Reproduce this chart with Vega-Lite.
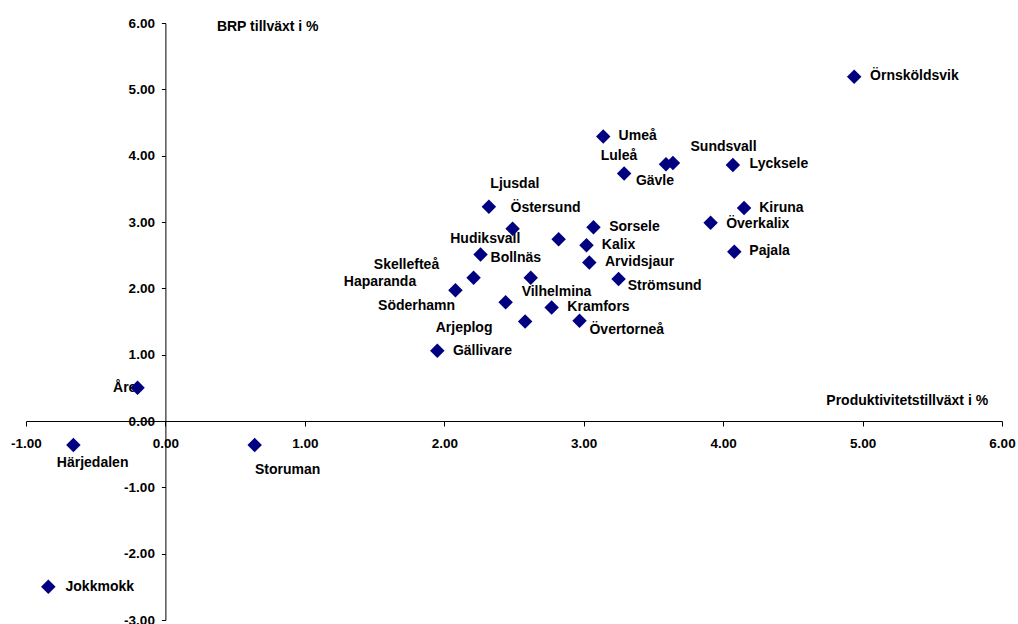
{
  "$schema": "https://vega.github.io/schema/vega-lite/v6.json",
  "width": 976,
  "height": 597,
  "autosize": {"type": "none"},
  "padding": {"left": 26, "top": 23, "right": 16, "bottom": 4},
  "background": "white",
  "config": {
    "view": {"stroke": null},
    "font": "Liberation Sans",
    "locale": {"number": {"decimal": ".", "thousands": ",", "grouping": [3], "currency": ["$", ""], "minus": "-"}}
  },
  "data": {
    "values": [
      {"kommun": "Örnsköldsvik", "prod": 4.94, "brp": 5.19, "lx": 5.372, "ly": 5.198},
      {"kommun": "Umeå", "prod": 3.14, "brp": 4.29, "lx": 3.387, "ly": 4.303},
      {"kommun": "Luleå", "prod": 3.59, "brp": 3.87, "lx": 3.253, "ly": 4.0},
      {"kommun": "Sundsvall", "prod": 3.64, "brp": 3.89, "lx": 4.003, "ly": 4.137},
      {"kommun": "Gävle", "prod": 3.29, "brp": 3.73, "lx": 3.511, "ly": 3.624},
      {"kommun": "Lycksele", "prod": 4.07, "brp": 3.86, "lx": 4.4, "ly": 3.876},
      {"kommun": "Kiruna", "prod": 4.15, "brp": 3.21, "lx": 4.418, "ly": 3.217},
      {"kommun": "Överkalix", "prod": 3.91, "brp": 2.99, "lx": 4.248, "ly": 2.976},
      {"kommun": "Pajala", "prod": 4.08, "brp": 2.55, "lx": 4.333, "ly": 2.558},
      {"kommun": "Sorsele", "prod": 3.07, "brp": 2.92, "lx": 3.364, "ly": 2.931},
      {"kommun": "Kalix", "prod": 3.02, "brp": 2.65, "lx": 3.25, "ly": 2.649},
      {"kommun": "Arvidsjaur", "prod": 3.04, "brp": 2.39, "lx": 3.401, "ly": 2.392},
      {"kommun": "Strömsund", "prod": 3.25, "brp": 2.14, "lx": 3.58, "ly": 2.03},
      {"kommun": "Ljusdal", "prod": 2.32, "brp": 3.23, "lx": 2.506, "ly": 3.575},
      {"kommun": "Hudiksvall", "prod": 2.49, "brp": 2.9, "lx": 2.294, "ly": 2.745},
      {"kommun": "Östersund", "prod": 2.82, "brp": 2.74, "lx": 2.726, "ly": 3.21},
      {"kommun": "Bollnäs", "prod": 2.26, "brp": 2.51, "lx": 2.513, "ly": 2.463},
      {"kommun": "Skellefteå", "prod": 2.21, "brp": 2.16, "lx": 1.729, "ly": 2.347},
      {"kommun": "Haparanda", "prod": 2.08, "brp": 1.97, "lx": 1.539, "ly": 2.101},
      {"kommun": "Vilhelmina", "prod": 2.62, "brp": 2.16, "lx": 2.805, "ly": 1.946},
      {"kommun": "Söderhamn", "prod": 2.44, "brp": 1.79, "lx": 1.801, "ly": 1.739},
      {"kommun": "Kramfors", "prod": 2.77, "brp": 1.71, "lx": 3.106, "ly": 1.716},
      {"kommun": "Arjeplog", "prod": 2.58, "brp": 1.5, "lx": 2.142, "ly": 1.407},
      {"kommun": "Övertorneå", "prod": 2.97, "brp": 1.51, "lx": 3.309, "ly": 1.37},
      {"kommun": "Gällivare", "prod": 1.95, "brp": 1.06, "lx": 2.274, "ly": 1.06},
      {"kommun": "Åre", "prod": -0.2, "brp": 0.5, "lx": -0.292, "ly": 0.49},
      {"kommun": "Härjedalen", "prod": -0.66, "brp": -0.36, "lx": -0.522, "ly": -0.629},
      {"kommun": "Storuman", "prod": 0.64, "brp": -0.36, "lx": 0.877, "ly": -0.742},
      {"kommun": "Jokkmokk", "prod": -0.84, "brp": -2.5, "lx": -0.471, "ly": -2.496}
    ]
  },
  "layer": [
    {
      "mark": {"type": "text", "font": "Liberation Sans", "fontWeight": "bold", "fontSize": 14, "color": "black", "align": "center", "baseline": "middle"},
      "encoding": {
        "x": {"field": "lx", "type": "quantitative", "scale": {"domain": [-1, 6], "nice": false, "zero": false},
          "axis": {"title": "Produktivitetstillväxt i %", "values": [-1, 0, 1, 2, 3, 4, 5, 6], "format": ".2f", "grid": false, "offset": -199,
            "domainColor": "black", "tickColor": "black", "tickSize": 5, "labelFont": "Liberation Sans", "labelFontWeight": "bold", "labelFontSize": 13.5,
            "labelColor": "black", "labelPadding": 10, "labelFlush": false, "labelOverlap": false, "titleFont": "Liberation Sans", "titleFontWeight": "bold",
            "titleFontSize": 14, "titleColor": "black", "titleX": 880.7, "titleY": -21, "titleAlign": "center", "titleBaseline": "middle"}},
        "y": {"field": "ly", "type": "quantitative", "scale": {"domain": [-3, 6], "nice": false, "zero": false},
          "axis": {"title": "BRP tillväxt i %", "values": [-3, -2, -1, 0, 1, 2, 3, 4, 5, 6], "format": ".2f", "grid": false, "offset": -139.4,
            "domainColor": "black", "tickColor": "black", "tickSize": 4, "labelFont": "Liberation Sans", "labelFontWeight": "bold", "labelFontSize": 13.5,
            "labelColor": "black", "labelPadding": 7, "labelFlush": false, "labelOverlap": false, "titleFont": "Liberation Sans", "titleFontWeight": "bold",
            "titleFontSize": 14, "titleColor": "black", "titleAngle": 0, "titleX": 51, "titleY": 3, "titleAlign": "left", "titleBaseline": "middle"}},
        "text": {"field": "kommun", "type": "nominal"}
      }
    },
    {
      "mark": {"type": "point", "shape": "diamond", "filled": true, "size": 210, "color": "#000080", "opacity": 1},
      "encoding": {
        "x": {"field": "prod", "type": "quantitative", "scale": {"domain": [-1, 6], "nice": false, "zero": false},
          "axis": {"title": "Produktivitetstillväxt i %", "values": [-1, 0, 1, 2, 3, 4, 5, 6], "format": ".2f", "grid": false, "offset": -199,
            "domainColor": "black", "tickColor": "black", "tickSize": 5, "labelFont": "Liberation Sans", "labelFontWeight": "bold", "labelFontSize": 13.5,
            "labelColor": "black", "labelPadding": 10, "labelFlush": false, "labelOverlap": false, "titleFont": "Liberation Sans", "titleFontWeight": "bold",
            "titleFontSize": 14, "titleColor": "black", "titleX": 880.7, "titleY": -21, "titleAlign": "center", "titleBaseline": "middle"}},
        "y": {"field": "brp", "type": "quantitative", "scale": {"domain": [-3, 6], "nice": false, "zero": false},
          "axis": {"title": "BRP tillväxt i %", "values": [-3, -2, -1, 0, 1, 2, 3, 4, 5, 6], "format": ".2f", "grid": false, "offset": -139.4,
            "domainColor": "black", "tickColor": "black", "tickSize": 4, "labelFont": "Liberation Sans", "labelFontWeight": "bold", "labelFontSize": 13.5,
            "labelColor": "black", "labelPadding": 7, "labelFlush": false, "labelOverlap": false, "titleFont": "Liberation Sans", "titleFontWeight": "bold",
            "titleFontSize": 14, "titleColor": "black", "titleAngle": 0, "titleX": 51, "titleY": 3, "titleAlign": "left", "titleBaseline": "middle"}},
        "tooltip": {"field": "kommun", "type": "nominal"}
      }
    }
  ]
}
